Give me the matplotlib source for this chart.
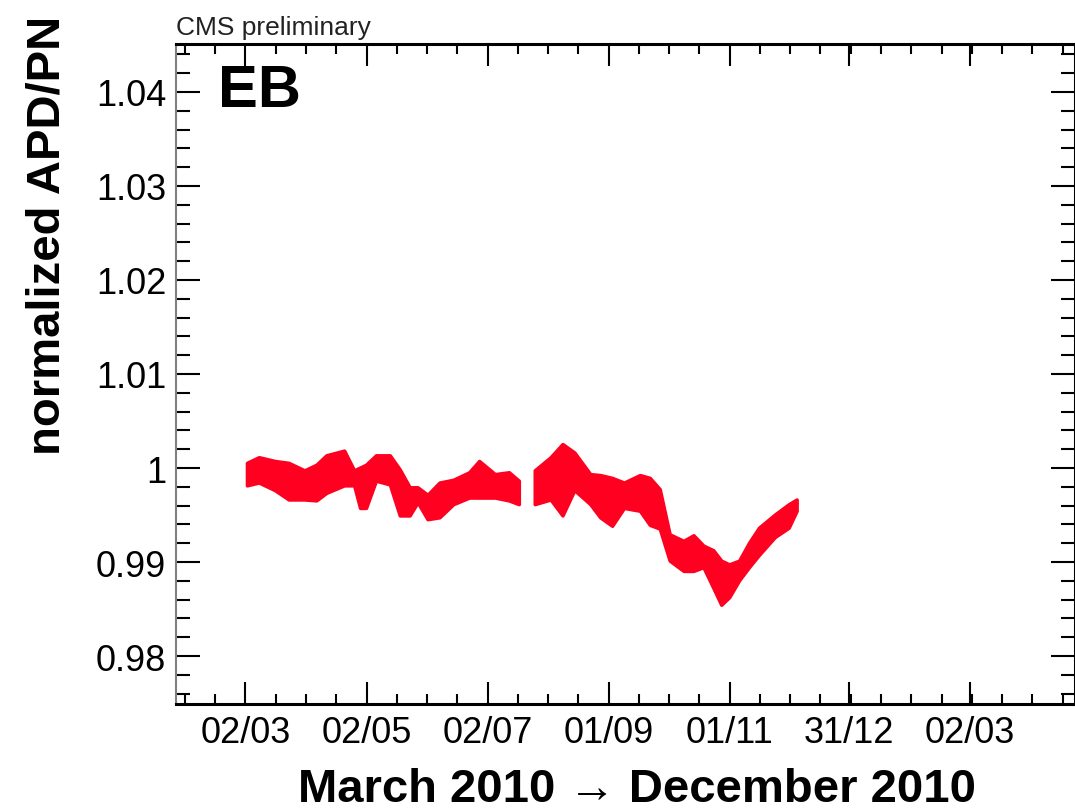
import pandas as pd
import matplotlib
matplotlib.use('Agg')
import matplotlib.pyplot as plt
import matplotlib.dates as mdates

plt.rcParams['font.family'] = ['Liberation Sans', 'DejaVu Sans']

# --- data (upper / lower edge of the red band) ---
dates = ['2010-03-03', '2010-03-09', '2010-03-17', '2010-03-24', '2010-04-01',
         '2010-04-07', '2010-04-12', '2010-04-21', '2010-04-26', '2010-04-29',
         '2010-05-02', '2010-05-07', '2010-05-14', '2010-05-19', '2010-05-24',
         '2010-05-28', '2010-06-02', '2010-06-08', '2010-06-15', '2010-06-23',
         '2010-06-28', '2010-07-06', '2010-07-13', '2010-07-18', '2010-07-22',
         '2010-07-26', '2010-08-03', '2010-08-09', '2010-08-15', '2010-08-23',
         '2010-08-28', '2010-09-03', '2010-09-09', '2010-09-17', '2010-09-22',
         '2010-09-27', '2010-10-02', '2010-10-09', '2010-10-14', '2010-10-19',
         '2010-10-24', '2010-10-28', '2010-11-01', '2010-11-06', '2010-11-11',
         '2010-11-16', '2010-11-24', '2010-12-01', '2010-12-05']
upper = [1.0005, 1.0011, 1.0007, 1.0005, 0.9997, 1.0003, 1.0013, 1.0018, 0.9997, 1.0000,
         1.0003, 1.0013, 1.0013, 0.9998, 0.9979, 0.9979, 0.9971, 0.9984, 0.9987, 0.9995,
         1.0007, 0.9993, 0.9995, 0.9986, None, 0.9997, 1.0011, 1.0025, 1.0016, 0.9993,
         0.9992, 0.9989, 0.9984, 0.9992, 0.9989, 0.9977, 0.9929, 0.9922, 0.9928, 0.9917,
         0.9912, 0.9901, 0.9897, 0.9901, 0.9920, 0.9936, 0.9950, 0.9961, 0.9966]
lower = [0.9981, 0.9984, 0.9976, 0.9966, 0.9966, 0.9965, 0.9973, 0.9981, 0.9981, 0.9957,
         0.9957, 0.9986, 0.9982, 0.9949, 0.9949, 0.9963, 0.9945, 0.9947, 0.9961, 0.9968,
         0.9968, 0.9968, 0.9965, 0.9961, None, 0.9961, 0.9966, 0.9949, 0.9976, 0.9961,
         0.9947, 0.9938, 0.9957, 0.9954, 0.9939, 0.9935, 0.9901, 0.9890, 0.9890, 0.9894,
         0.9872, 0.9854, 0.9862, 0.9880, 0.9894, 0.9907, 0.9926, 0.9936, 0.9954]

x_ticks = ['2010-03-02', '2010-05-02', '2010-07-02', '2010-09-01',
           '2010-11-01', '2010-12-31', '2011-03-02']
x_labels = ['02/03', '02/05', '02/07', '01/09', '01/11', '31/12', '02/03']
y_ticks = [0.98, 0.99, 1.00, 1.01, 1.02, 1.03, 1.04]
y_labels = ['0.98', '0.99', '1', '1.01', '1.02', '1.03', '1.04']

df = pd.DataFrame({'date': pd.to_datetime(dates),
                   'upper': pd.to_numeric(pd.Series(upper)),
                   'lower': pd.to_numeric(pd.Series(lower))})

fig = plt.figure(figsize=(10.75, 8.12), dpi=100)
ax = fig.add_axes([176 / 1075, 107 / 812, 899 / 1075, 660 / 812])

red = '#ff0020'
ax.fill_between(df['date'], df['lower'], df['upper'], color=red, lw=2.5, edgecolor=red)

# ticks ROOT style: inside, on all four sides
tick_num = mdates.date2num(pd.to_datetime(x_ticks))
ax.set_xticks(tick_num)
ax.set_xticklabels(x_labels)
step = (tick_num[1] - tick_num[0]) / 4
minors = [tick_num[0] + k * step for k in range(-2, 28)]
ax.set_xticks(minors, minor=True)

ax.set_yticks(y_ticks)
ax.set_yticklabels(y_labels)
ax.set_yticks([0.976 + 0.002 * k for k in range(35)], minor=True)

# limits after the ticks so the tick lists do not widen the view
ax.set_xlim(pd.Timestamp('2010-01-26'), pd.Timestamp('2011-04-24'))
ax.set_ylim(0.9749, 1.0451)

ax.tick_params(axis='both', which='both', direction='in', top=True, right=True,
               labelsize=26, colors='black', width=1.5)
ax.tick_params(axis='x', which='major', length=16, pad=8)
ax.tick_params(axis='x', which='minor', length=7)
ax.tick_params(axis='y', which='major', length=17, pad=7)
ax.tick_params(axis='y', which='minor', length=10)

ax.spines['left'].set_color('#808080')
ax.spines['left'].set_linewidth(1.5)
ax.spines['top'].set_linewidth(2.2)
ax.spines['bottom'].set_linewidth(2.2)
ax.spines['right'].set_linewidth(2.2)

ax.text(0.047, 0.93, 'EB', transform=ax.transAxes, fontsize=43,
        fontweight='bold', ha='left', va='center')

fig.text(176 / 1075, 1 - 28 / 812, 'CMS preliminary', fontsize=19,
         ha='left', va='center', color='#222222')
fig.text(48 / 1075, 1 - 455 / 812, 'normalized APD/PN', fontsize=34,
         fontweight='bold', rotation=90, ha='center', va='bottom')
fig.text(637 / 1075, 1 - 790 / 812, 'March 2010 \u2192 December 2010',
         fontsize=34, fontweight='bold', ha='center', va='center')

fig.savefig('out.png', dpi=100, facecolor='white')
